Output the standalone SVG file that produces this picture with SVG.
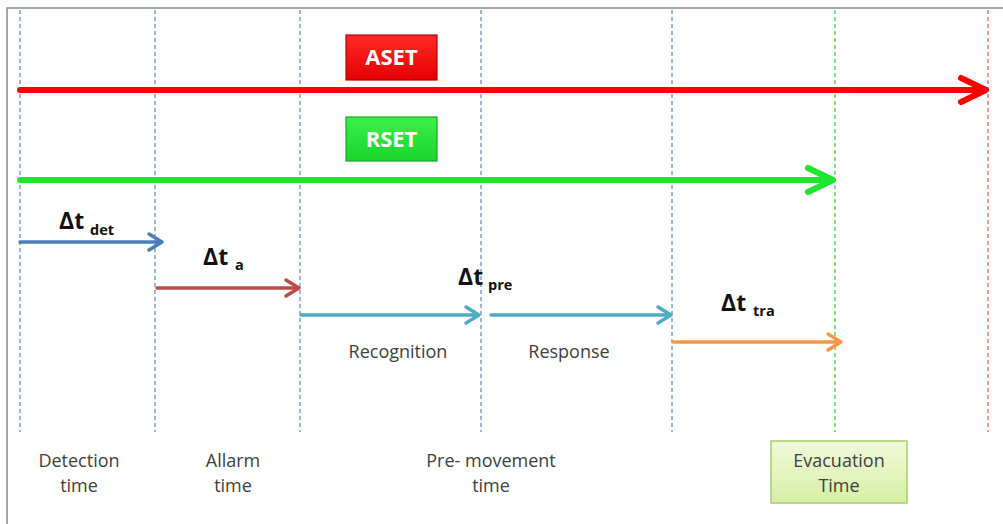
<svg xmlns="http://www.w3.org/2000/svg" width="1003" height="524" viewBox="0 0 1003 524">
<defs>
<linearGradient id="gRed" x1="0" y1="0" x2="0" y2="1"><stop offset="0" stop-color="#ff2a2a"/><stop offset="1" stop-color="#e60000"/></linearGradient>
<linearGradient id="gGreen" x1="0" y1="0" x2="0" y2="1"><stop offset="0" stop-color="#3cf04a"/><stop offset="1" stop-color="#1ad42a"/></linearGradient>
<linearGradient id="gEvac" x1="0" y1="0" x2="0" y2="1"><stop offset="0" stop-color="#f0f9dc"/><stop offset="1" stop-color="#d6f0a4"/></linearGradient>
</defs>
<style>
.vb{stroke:#7f9fd0;stroke-width:1.5;stroke-dasharray:4 3;fill:none}
.vg{stroke:#33dd33;stroke-width:1.3;stroke-dasharray:4 3;fill:none}
.vr{stroke:#ff7070;stroke-width:1.5;stroke-dasharray:4 3;fill:none}
.arr{fill:none;stroke-linecap:round;stroke-linejoin:round}
.lbl{font-family:"Open Sans","Liberation Sans",sans-serif;font-size:18px;fill:#404040;text-anchor:middle}
.dt{font-family:"Open Sans","Liberation Sans",sans-serif;font-weight:bold;fill:#111}
.big{font-size:23px}
.sub{font-size:14.5px}
.tag{font-family:"Open Sans","Liberation Sans",sans-serif;font-weight:bold;font-size:22px;fill:#fff;text-anchor:middle}
</style>
<rect width="1003" height="524" fill="#fff"/>
<path d="M7 524 V8 H1003" fill="none" stroke="#8a8a8a" stroke-width="1.5"/>
<g id="guides">
<line class="vb" x1="20" y1="10" x2="20" y2="432"/>
<line class="vb" x1="155" y1="10" x2="155" y2="432"/>
<line class="vb" x1="300" y1="10" x2="300" y2="432"/>
<line class="vb" x1="481" y1="10" x2="481" y2="432"/>
<line class="vb" x1="672" y1="10" x2="672" y2="432"/>
<line class="vg" x1="835" y1="10" x2="835" y2="432"/>
<line class="vr" x1="988" y1="10" x2="988" y2="432"/>
</g>
<g id="connectors">
<g id="aset-arrow" stroke="#ff0000"><line class="arr" x1="20" y1="90" x2="984" y2="90" stroke-width="6"/><polyline class="arr" points="961,78 986,90 961,102" stroke-width="6"/></g>
<g id="rset-arrow" stroke="#1ee62e"><line class="arr" x1="20" y1="180" x2="830" y2="180" stroke-width="6"/><polyline class="arr" points="808,168 833,180 808,192" stroke-width="6"/></g>
<g id="det-arrow" stroke="#4a7ebb"><line class="arr" x1="20" y1="242" x2="161" y2="242" stroke-width="3.5"/><polyline class="arr" points="149,234 162,242 149,250" stroke-width="3.5"/></g>
<g id="a-arrow" stroke="#be4b48"><line class="arr" x1="157" y1="288" x2="298" y2="288" stroke-width="3.5"/><polyline class="arr" points="286,280 299,288 286,296" stroke-width="3.5"/></g>
<g id="rec-arrow" stroke="#4bacc6"><line class="arr" x1="301" y1="315" x2="478" y2="315" stroke-width="3.5"/><polyline class="arr" points="466,307 479,315 466,323" stroke-width="3.5"/></g>
<g id="resp-arrow" stroke="#4bacc6"><line class="arr" x1="491" y1="315" x2="670" y2="315" stroke-width="3.5"/><polyline class="arr" points="658,307 671,315 658,323" stroke-width="3.5"/></g>
<g id="tra-arrow" stroke="#f79646"><line class="arr" x1="673" y1="342" x2="840" y2="342" stroke-width="3.5"/><polyline class="arr" points="828,334 841,342 828,350" stroke-width="3.5"/></g>
</g>
<g id="aset">
<rect x="346" y="35" width="91" height="45" fill="url(#gRed)" stroke="#b00000" stroke-width="1.2"/>
<text class="tag" x="391.5" y="65">ASET</text>
</g>
<g id="rset">
<rect x="346" y="117" width="91" height="44" fill="url(#gGreen)" stroke="#14a820" stroke-width="1.2"/>
<text class="tag" x="391.5" y="147">RSET</text>
</g>
<g id="dt-det"><text class="dt big" x="59" y="229">Δt</text><text class="dt sub" x="90" y="235">det</text></g>
<g id="dt-a"><text class="dt big" x="203" y="265">Δt</text><text class="dt sub" x="235" y="270">a</text></g>
<g id="dt-pre"><text class="dt big" x="458" y="285">Δt</text><text class="dt sub" x="488" y="290">pre</text></g>
<g id="dt-tra"><text class="dt big" x="721" y="311">Δt</text><text class="dt sub" x="753" y="316">tra</text></g>
<g id="recognition"><text class="lbl" x="398" y="358">Recognition</text></g>
<g id="response"><text class="lbl" x="569" y="358">Response</text></g>
<g id="detection"><text class="lbl" x="79" y="467">Detection</text><text class="lbl" x="79" y="492">time</text></g>
<g id="allarm"><text class="lbl" x="233" y="467">Allarm</text><text class="lbl" x="233" y="492">time</text></g>
<g id="premovement"><text class="lbl" x="491" y="467">Pre- movement</text><text class="lbl" x="491" y="492">time</text></g>
<g id="evacuation">
<rect x="771" y="441" width="136" height="62" fill="url(#gEvac)" stroke="#a9cc6c" stroke-width="1.5"/>
<text class="lbl" x="839" y="467">Evacuation</text><text class="lbl" x="839" y="492">Time</text>
</g>
</svg>
